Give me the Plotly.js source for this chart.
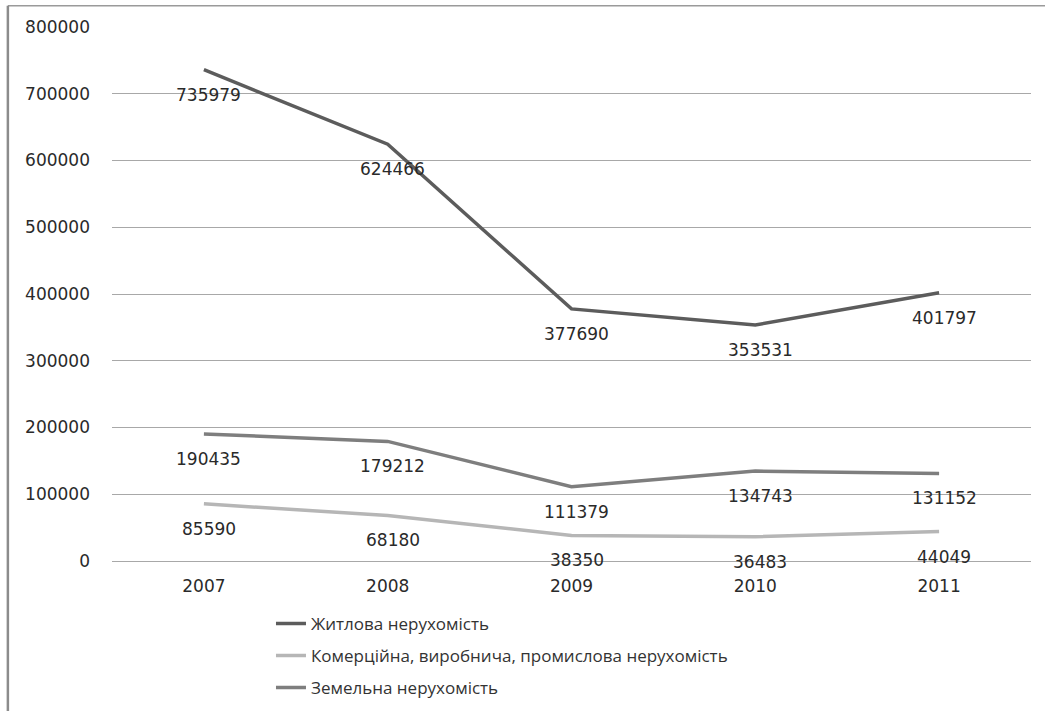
<!DOCTYPE html>
<html>
<head>
<meta charset="utf-8">
<script src="https://cdn.plot.ly/plotly-3.0.1.min.js"></script>
<style>html,body{margin:0;padding:0;background:#fff;}#chart{width:1045px;height:711px;}</style>
</head>
<body>
<div id="chart"></div>
<script>
const years = ['2007', '2008', '2009', '2010', '2011'];
const residential = [735979, 624466, 377690, 353531, 401797];
const commercial = [85590, 68180, 38350, 36483, 44049];
const land = [190435, 179212, 111379, 134743, 131152];
const seriesNames = ['Житлова нерухомість', 'Комерційна, виробнича, промислова нерухомість', 'Земельна нерухомість'];
const yTicks = [0, 100000, 200000, 300000, 400000, 500000, 600000, 700000, 800000];

const colors = ['#5c5c5c', '#b6b6b6', '#7e7e7e'];
const allSeries = [residential, commercial, land];
const numFont = '"DejaVu Sans", Verdana, sans-serif';

const traces = allSeries.map((vals, i) => ({
  type: 'scatter', mode: 'lines', x: years, y: vals, name: seriesNames[i],
  legendgroup: 'g' + i,
  line: {color: colors[i], width: 3.5}, hoverinfo: 'skip'
}));

const annotations = [];
allSeries.forEach(vals => {
  vals.forEach((v, j) => {
    annotations.push({
      x: j, y: v, xref: 'x', yref: 'y', text: String(v), showarrow: false,
      yshift: -25, xshift: 5,
      font: {family: numFont, size: 17, color: '#2a2a2a'}
    });
  });
});

const layout = {
  width: 1045, height: 711,
  margin: {l: 112, r: 14, t: 27, b: 150, autoexpand: false},
  paper_bgcolor: '#fff', plot_bgcolor: '#fff',
  showlegend: true,
  legend: {
    orientation: 'v', x: 0.173, xanchor: 'left', y: -0.084, yanchor: 'top',
    font: {family: '"Open Sans", "Noto Sans", sans-serif', size: 17, color: '#333'},
    traceorder: 'grouped', tracegroupgap: 7, bgcolor: 'rgba(0,0,0,0)'
  },
  xaxis: {
    type: 'category', range: [-0.5, 4.5], showgrid: false, zeroline: false, showline: false,
    ticks: '', ticklabelstandoff: 13,
    tickfont: {family: numFont, size: 17, color: '#2a2a2a'}
  },
  yaxis: {
    range: [0, 800000], tickvals: yTicks, ticktext: yTicks.map(String),
    showgrid: true, gridcolor: '#a8a8a8', gridwidth: 1, zeroline: true, zerolinecolor: '#a8a8a8',
    showline: false, ticks: '', ticklabelstandoff: 21,
    tickfont: {family: numFont, size: 17, color: '#2a2a2a'}
  },
  annotations: annotations,
  shapes: [
    {type: 'line', xref: 'paper', yref: 'paper', x0: -0.1133, x1: 1.02, y0: 1.04, y1: 1.04,
     line: {color: '#9a9a9a', width: 1.5}},
    {type: 'line', xref: 'paper', yref: 'paper', x0: -0.1133, x1: -0.1133, y0: 1.04, y1: -0.3,
     line: {color: '#8c8c8c', width: 2.5}}
  ]
};

Plotly.newPlot('chart', traces, layout, {displayModeBar: false});
</script>
</body>
</html>
